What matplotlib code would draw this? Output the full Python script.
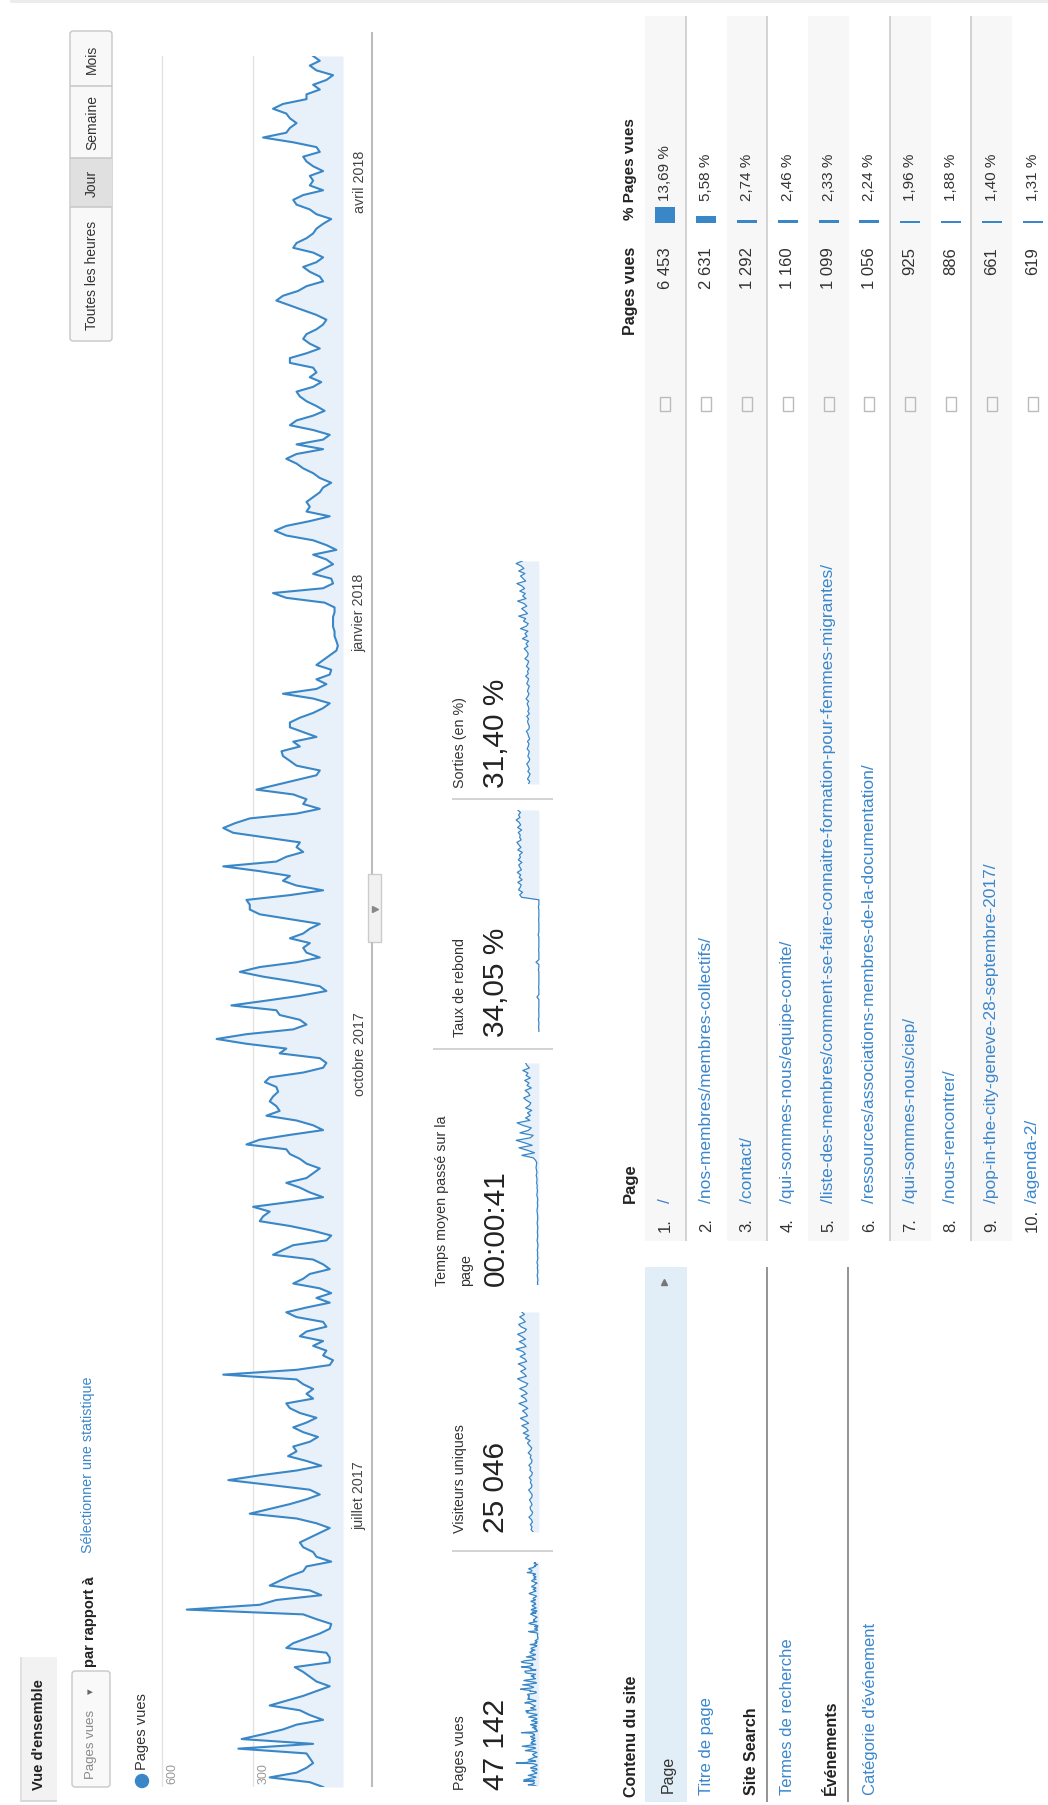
import numpy as np
import pandas as pd
import matplotlib
matplotlib.use('Agg')
import matplotlib.pyplot as plt
import matplotlib.dates as mdates
from matplotlib.patches import Rectangle, FancyBboxPatch, Circle

plt.rcParams['font.family'] = ['Liberation Sans', 'DejaVu Sans']

# Pages vues par jour, à partir du 1er mai 2017
pv_mai_juil = [66, 110, 243, 154, 121, 99, 110, 121, 347, 99, 336, 265, 199, 154, 66, 110, 143, 243, 187, 132,
               88, 44, 88, 110, 132, 160, 44, 44, 55, 188, 165, 121, 77, 44, 39, 88, 132, 518, 276, 221,
               72, 110, 243, 210, 176, 132, 121, 39, 88, 99, 132, 143, 110, 77, 44, 88, 154, 309, 243, 176,
               121, 77, 110, 243, 380, 276, 154, 72, 121, 182, 154, 165, 110, 83, 132, 165, 121, 88, 143, 176,
               188, 99, 121, 99, 132, 154, 397, 154, 44, 33, 66, 55]
pv_aout_oct = [99, 66, 143, 121, 55, 66, 154, 188, 121, 44, 88, 39, 77, 165, 132, 110, 44, 66, 99, 232,
               199, 165, 55, 39, 99, 176, 276, 265, 243, 298, 176, 66, 110, 143, 188, 121, 99, 77, 121, 143,
               176, 188, 320, 276, 176, 66, 99, 154, 254, 210, 221, 243, 232, 215, 221, 259, 243, 132, 66, 55,
               77, 210, 188, 320, 419, 320, 165, 121, 143, 210, 221, 370, 254, 143, 55, 77, 165, 265, 342, 276,
               154, 77, 121, 132, 110, 176, 132, 110, 77, 176, 276, 309, 309, 320]
pv_nov_jan = [176, 66, 154, 199, 176, 276, 397, 221, 188, 132, 154, 143, 254, 364, 397, 358, 309, 154, 77, 132,
              121, 165, 287, 221, 154, 88, 77, 154, 176, 199, 204, 143, 165, 88, 132, 176, 176, 143, 99, 66,
              44, 99, 199, 88, 55, 88, 44, 39, 88, 66, 44, 22, 17, 22, 28, 28, 33, 33, 33, 28,
              28, 61, 188, 232, 66, 33, 39, 99, 66, 33, 55, 99, 22, 55, 99, 188, 226, 188, 110, 44,
              121, 110, 121, 99, 77, 66, 39, 77, 99, 132, 154, 188, 154, 66]
pv_fev_avr = [154, 66, 44, 99, 176, 154, 99, 61, 88, 121, 143, 154, 99, 72, 110, 88, 99, 176, 176, 121,
              77, 110, 132, 121, 88, 66, 55, 88, 132, 176, 221, 199, 149, 121, 66, 77, 110, 132, 88, 66,
              99, 165, 154, 121, 99, 88, 66, 39, 88, 110, 154, 165, 132, 66, 110, 99, 110, 66, 99, 121,
              132, 77, 88, 165, 265, 188, 176, 154, 176, 188, 232, 199, 121, 121, 77, 99, 55, 33, 88, 110,
              77, 99]
date_debut = '2017-05-01'
mois_ticks = ['2017-07-01', '2017-10-01', '2018-01-01', '2018-04-01']
mois_labels = ['juillet 2017', 'octobre 2017', 'janvier 2018', 'avril 2018']
graduations = [300, 600]

# petites courbes des statistiques (estimées)
visiteurs_uniques = [40, 55, 48, 60, 45, 52, 70, 50, 44, 58, 62, 48, 55, 66, 50, 47, 58, 72, 52, 49,
                     60, 54, 68, 50, 46, 63, 57, 70, 52, 48, 61, 55, 75, 58, 50, 66,
                     80, 62, 95, 70, 110, 75, 88, 120, 72, 98, 130, 80, 92, 115, 78, 105, 140, 85, 96,
                     125, 82, 100, 135, 90, 78, 118, 150, 88, 104, 128, 92, 110, 145, 86, 99, 132, 95,
                     112, 160, 90, 105, 138, 94, 118, 150, 100, 88, 125, 142, 96, 110, 135, 102, 120]
temps_moyen = [12, 15, 10, 14, 18, 11, 13, 16, 12, 20, 14, 11, 15, 13, 17, 12, 10, 14, 19, 13,
               12, 16, 14, 11, 15, 18, 13, 12, 14, 17, 20, 15, 13, 16, 12, 14, 22, 18, 15, 20,
               17, 25, 19, 22, 28, 20, 24, 30, 26, 22, 35,
               60, 180, 45, 120, 210, 70, 150, 240, 90, 60, 200, 110, 80, 170, 230, 95, 140,
               90, 120, 75, 140, 100, 85, 130, 160, 95, 110, 145, 80, 125, 105, 150, 90, 135, 115,
               170, 100, 125, 140]
taux_rebond = [0, 0, 1, 0, 0, 2, 0, 0, 0, 1, 0, 0, 0, 0, 8, 0, 0, 0, 1, 0,
               0, 0, 0, 0, 0, 2, 0, 0, 12, 0, 0, 0, 0, 1, 0, 0, 0, 0, 0, 3,
               0, 0, 0, 0, 0, 1, 0, 0, 0, 0, 2, 0, 0, 0,
               72, 80, 68, 85, 78, 74, 88, 70, 82, 76, 90, 73, 79, 84, 71, 86, 77, 81, 69, 88,
               75, 83, 92, 74, 80, 78, 86, 72, 89, 76, 82, 95, 79, 85, 77, 88]
sorties = [28, 25, 31, 27, 24, 30, 26, 29, 33, 27, 25, 30, 28, 26, 32, 29, 27, 31, 25, 28,
           30, 34, 27, 26, 29, 31, 28, 33, 26, 30, 27, 29, 32, 28, 35, 30, 27, 31, 29, 26,
           33, 30, 28, 36, 29, 31, 27, 34, 30, 28, 38, 31, 29, 33, 40, 30, 35, 28, 45, 32,
           38, 30, 50, 34, 29, 42, 36, 55, 31, 38, 47, 33, 40, 58, 35, 44, 37, 52, 39, 46,
           60, 36, 43, 50, 38, 55, 41, 48, 62, 45]

stat_noms = ['Pages vues', 'Visiteurs uniques', 'Temps moyen passé sur la', 'Taux de rebond', 'Sorties (en %)']
stat_valeurs = ['47 142', '25 046', '00:00:41', '34,05 %', '31,40 %']

# tableau des pages
pages = ['/', '/nos-membres/membres-collectifs/', '/contact/', '/qui-sommes-nous/equipe-comite/',
         '/liste-des-membres/comment-se-faire-connaitre-formation-pour-femmes-migrantes/',
         '/ressources/associations-membres-de-la-documentation/',
         '/qui-sommes-nous/ciep/', '/nous-rencontrer/',
         '/pop-in-the-city-geneve-28-septembre-2017/', '/agenda-2/']
pages_vues = [6453, 2631, 1292, 1160, 1099, 1056, 925, 886, 661, 619]
pct_pages_vues = [13.69, 5.58, 2.74, 2.46, 2.33, 2.24, 1.96, 1.88, 1.40, 1.31]

BLUE = '#3a87c7'
FILL = '#e8f1fa'
LINK = '#3b87cc'
DARK = '#222222'

W, H = 1048, 1806
fig = plt.figure(figsize=(W / 100, H / 100), dpi=100)
bg = fig.add_axes([0, 0, 1, 1])
bg.set_xlim(0, W)
bg.set_ylim(H, 0)
bg.axis('off')


def vtext(x, y, s, size=10, ha='left', color=DARK, weight='normal'):
    bg.text(x, y, s, rotation=90, rotation_mode='anchor', ha=ha, va='center',
            fontsize=size, color=color, fontweight=weight)


def hline(x0, x1, y, color='#c8c8c8', lw=1.1):
    bg.plot([x0, x1], [y, y], color=color, lw=lw, solid_capstyle='butt')


def vline(x, y0, y1, color='#c8c8c8', lw=1.1):
    bg.plot([x, x], [y0, y1], color=color, lw=lw, solid_capstyle='butt')


def px_axes(x0, x1, y0, y1):
    a = fig.add_axes([x0 / W, 1 - y1 / H, (x1 - x0) / W, (y1 - y0) / H])
    a.patch.set_alpha(0)
    return a


# top strip
bg.add_patch(Rectangle((10, 0), W - 10, 4, fc='#ececec', lw=0))

# tab + selectors
bg.add_patch(Rectangle((20, 1658), 37, 144, fc='#f2f2f2', lw=0))
hline(20, 57, 1802, '#d0d0d0')
vline(20.5, 1658, 1802, '#dddddd')
vtext(39, 1790, "Vue d'ensemble", 10.5, weight='bold')
bg.add_patch(FancyBboxPatch((72, 1672), 38, 116, boxstyle='round,pad=0,rounding_size=3',
                            fc='#f9f9f9', ec='#c8c8c8', lw=1))
vtext(91, 1779, 'Pages vues', 9.5, color='#888888')
vtext(91, 1694, '▾', 8, color='#666666')
vtext(90, 1667, 'par rapport à', 10.5, weight='bold')
vtext(88, 1553, 'Sélectionner une statistique', 10.3, color=LINK)

# granularity buttons
bg.add_patch(FancyBboxPatch((70, 32), 42, 310, boxstyle='round,pad=0,rounding_size=3',
                            fc='#f8f8f8', ec='#c6c6c6', lw=1))
bg.add_patch(Rectangle((70.5, 159), 41, 49, fc='#e0e0e0', lw=0))
for yy in [87, 159, 208]:
    hline(70, 112, yy, '#c6c6c6')
for txt, yc in zip(['Mois', 'Semaine', 'Jour', 'Toutes les heures'], [59, 123, 183, 275]):
    vtext(92, yc, txt, 10, ha='center', color='#333333')

# legend
bg.add_patch(Circle((142, 1782), 6.5, color=BLUE))
vtext(142, 1770, 'Pages vues', 10.5, color='#333333')

# main chart
pv = np.array(pv_mai_juil + pv_aout_oct + pv_nov_jan + pv_fev_avr)
dates = mdates.date2num(pd.date_range(date_debut, periods=len(pv)))
x_zero, x_600 = 343, 162
k = (x_zero - x_600) / 600
vmax = 615
ax = px_axes(x_zero - vmax * k, x_zero, 57, 1788)
ax.fill_betweenx(dates, 0, pv, color=FILL, lw=0)
ax.plot(pv, dates, color=BLUE, lw=1.5, solid_joinstyle='round')
ax.set_xlim(vmax, 0)
ax.set_ylim(dates[0], dates[-1])
ax.set_xticks(graduations)
ax.set_xticklabels([])
ax.grid(axis='x', color='#e3e3e3', lw=1)
ax.set_axisbelow(True)
ax.set_yticks(mdates.date2num(pd.to_datetime(mois_ticks)))
ax.set_yticklabels(mois_labels)
ax.tick_params(axis='y', length=0, pad=7, labelsize=10.3, labelcolor='#444444',
               labelleft=False, labelright=True, labelrotation=90)
for lab in ax.get_yticklabels():
    lab.set_va('center')
ax.tick_params(axis='x', length=0)
for s in ax.spines.values():
    s.set_visible(False)
for g in graduations:
    ax.annotate(str(g), xy=(g, dates[0]), xytext=(3.5, 3), textcoords='offset points',
                rotation=90, ha='left', va='bottom', fontsize=9, color='#999999')

# slider line with handle
vline(372, 33, 875, '#bdbdbd', 1.5)
vline(372, 943, 1788, '#bdbdbd', 1.5)
bg.add_patch(Rectangle((368, 875), 13, 68, fc='#f1f1f1', ec='#cccccc', lw=1))
bg.plot([374.5], [910], marker='>', ms=4, color='#888888')

# statistics with sparklines
debuts = [1790, 1533, 1286, 1037, 788]
spark_y = [(1563, 1787), (1313, 1533), (1064, 1286), (811, 1033), (562, 785)]
series = [pv, visiteurs_uniques, temps_moyen, taux_rebond, sorties]
for nom, val, y0, (sy0, sy1), s in zip(stat_noms, stat_valeurs, debuts, spark_y, series):
    if nom.startswith('Temps'):
        vtext(442, y0, nom, 10.3, color='#333333')
        vtext(466, y0, 'page', 10.3, color='#333333')
    else:
        vtext(460, y0, nom, 10.3, color='#333333')
    vtext(496, y0, val, 21.5, color=DARK)
    s = np.asarray(s, dtype=float)
    t = np.arange(len(s))
    sx = px_axes(515, 540, sy0, sy1)
    sx.fill_betweenx(t, 0, s, color=FILL, lw=0)
    sx.plot(s, t, color=BLUE, lw=0.9)
    sx.set_xlim(s.max() * 1.05, -s.max() * 0.05)
    sx.set_ylim(0, len(s) - 1)
    sx.axis('off')
hline(452, 553, 1552)
hline(433, 553, 1050)
hline(452, 553, 800)

# left navigation
vtext(631, 1797, 'Contenu du site', 11.5, weight='bold')
bg.add_patch(Rectangle((645, 1268), 42, 535, fc='#e2eef7', lw=0))
vtext(668, 1793, 'Page', 11.5, color='#333333')
bg.plot([664], [1283], marker='^', ms=4, color='#777777')
vtext(707, 1795, 'Titre de page', 12, color=LINK)
vtext(751, 1795, 'Site Search', 11.5, weight='bold')
vline(767, 1268, 1803, '#8a8a8a', 1.3)
vtext(788, 1795, 'Termes de recherche', 12, color=LINK)
vtext(831, 1795, 'Événements', 11.5, weight='bold')
vline(848, 1268, 1803, '#8a8a8a', 1.3)
vtext(870, 1795, "Catégorie d'événement", 12, color=LINK)

# table
row_x0, row_h = 645, 40.8
vtext(630, 1203, 'Page', 12, weight='bold')
vtext(630, 247, 'Pages vues', 11.5, ha='right', weight='bold')
vtext(630, 220, '% Pages vues', 11, weight='bold')
pct_max = max(pct_pages_vues)
for i, (p, n, pc) in enumerate(zip(pages, pages_vues, pct_pages_vues)):
    x0 = row_x0 + row_h * i
    xc = x0 + row_h / 2
    if i % 2 == 0:
        bg.add_patch(Rectangle((x0, 17), row_h, 1225, fc='#f7f7f7', lw=0, zorder=0))
    vtext(xc, 1232, f'{i + 1}.', 12, color='#333333')
    vtext(xc, 1203, p, 12.5, color=LINK)
    bg.add_patch(Rectangle((xc - 5, 398), 10, 14, fc='none', ec='#bbbbbb', lw=1))
    vtext(xc, 247, f'{n:,}'.replace(',', ' '), 12, ha='right', color='#333333')
    L = pc / pct_max * 16
    bg.add_patch(Rectangle((xc - 10, 224 - L), 20, L, fc=BLUE, lw=0))
    vtext(xc, 201, f'{pc:.2f} %'.replace('.', ','), 11, color='#333333')
for b in [1, 3, 6, 8]:
    vline(row_x0 + row_h * b, 17, 1242, '#cfcfcf', 1.3)

fig.savefig('out.png', dpi=100)
